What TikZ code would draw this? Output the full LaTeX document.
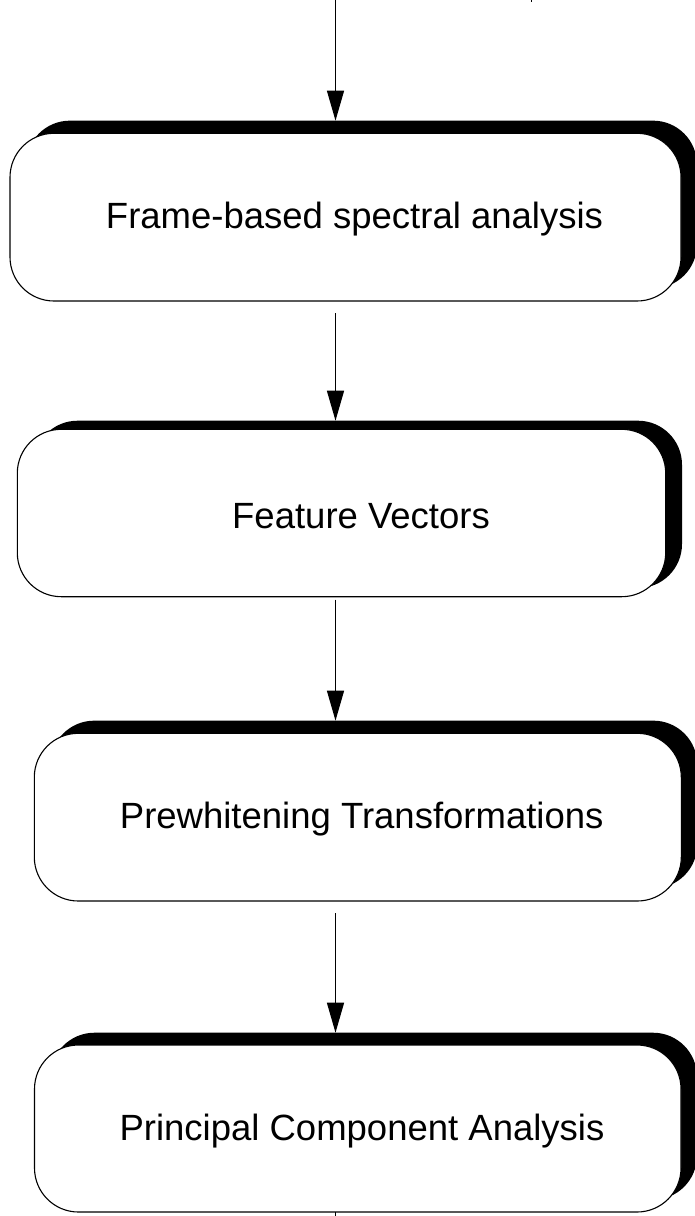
\documentclass[tikz,border=0pt]{standalone}
\usepackage{fontspec}
\setmainfont{Liberation Sans}
\usetikzlibrary{arrows.meta,calc}

\tikzset{
  x=1pt, y=1pt,
  frontbox/.style={draw=black, fill=white, line width=1.1pt, rectangle,
    rounded corners=44pt, inner sep=0pt, outer sep=0pt},
  shadowbox/.style={fill=black, rectangle, rounded corners=44pt,
    inner sep=0pt, outer sep=0pt},
  steplabel/.style={anchor=base, inner sep=0pt,
    font=\fontsize{36.5}{40}\selectfont},
  flow/.style={line width=1.3pt, -{Triangle[length=30pt,width=17pt]}},
  plainline/.style={line width=1.3pt}
}

\begin{document}
\begin{tikzpicture}
\useasboundingbox (0,0) rectangle (694,-1216);

\coordinate (ax) at (335.5,0);

% Stage 1: frame-based spectral analysis
\node[shadowbox, minimum width=671pt, minimum height=167.7pt] (s1) at (361.5,-204.5) {};
\node[frontbox, minimum width=671pt, minimum height=167.7pt] (b1) at (345.5,-217.15) {};
\node[steplabel] (t1) at (354.5,-228.3) {Frame-based spectral analysis};

% Stage 2: feature vectors
\node[shadowbox, minimum width=648.4pt, minimum height=167.4pt] (s2) at (357.8,-504.4) {};
\node[frontbox, minimum width=648.4pt, minimum height=167.4pt] (b2) at (341.5,-513) {};
\node[steplabel] (t2) at (361,-528.3) {Feature Vectors};

% Stage 3: prewhitening
\node[shadowbox, minimum width=647pt, minimum height=167.7pt] (s3) at (373.8,-804.5) {};
\node[frontbox, minimum width=647pt, minimum height=167.7pt] (b3) at (357.8,-817.15) {};
\node[steplabel] (t3) at (361.7,-828.3) {Prewhitening Transformations};

% Stage 4: principal component analysis
\node[shadowbox, minimum width=646.5pt, minimum height=167pt] (s4) at (373.75,-1116.2) {};
\node[frontbox, minimum width=646.5pt, minimum height=167pt] (b4) at (357.75,-1128.5) {};
\node[steplabel] (t4) at (362,-1140.7) {Principal Component Analysis};

% Connectors
\coordinate (in1) at (335.5,1);
\draw[flow] (in1) -- (s1.north -| ax);
\draw[flow] ([yshift=-12pt]b1.south -| ax) -- (s2.north -| ax);
\draw[flow] ([yshift=-3pt]b2.south -| ax) -- (s3.north -| ax);
\draw[flow] ([yshift=-12pt]b3.south -| ax) -- (s4.north -| ax);
\coordinate (out4) at (335.5,-1217);
\draw[plainline] (b4.south -| ax) -- (out4);

% Short stub at the top edge
\coordinate (stubA) at (531.7,1);
\coordinate (stubB) at (531.7,-2.2);
\draw[plainline] (stubA) -- (stubB);
\end{tikzpicture}
\end{document}
